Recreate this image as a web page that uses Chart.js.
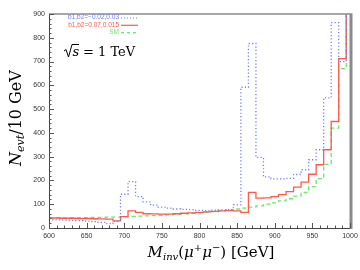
<!DOCTYPE html>
<html>
<head>
<meta charset="utf-8">
<script src="https://cdn.jsdelivr.net/npm/chart.js@4"></script>
<style>
  html, body { margin: 0; padding: 0; background: #fff; }
  #wrap { width: 360px; height: 270px; }
</style>
</head>
<body>
<div id="wrap"><canvas id="c" width="360" height="270"></canvas></div>
<script>
// bin centres, 10 GeV bins
const mInv = [600, 610, 620, 630, 640, 650, 660, 670, 680, 690,
              700, 710, 720, 730, 740, 750, 760, 770, 780, 790,
              800, 810, 820, 830, 840, 850, 860, 870, 880, 890,
              900, 910, 920, 930, 940, 950, 960, 970, 980, 990, 1000];

// b1,b2 = -0.02,0.03
const blueCounts = [35, 34, 33, 32, 31, 29, 27, 24, 18, 28,
                    142, 195, 132, 110, 96, 88, 84, 80, 78, 77,
                    74, 73, 75, 76, 77, 97, 592, 776, 297, 215,
                    207, 207, 209, 225, 245, 287, 329, 547, 864, 700, 950];

// b1,b2 = 0.07,0.015
const redCounts = [42, 42, 41, 41, 40, 40, 39, 38, 37, 30,
                   48, 72, 66, 60, 59, 58, 58, 60, 62, 64,
                   66, 68, 70, 72, 73, 72, 66, 150, 126, 127,
                   132, 140, 153, 172, 193, 226, 266, 329, 448, 712, 950];

// SM
const smCounts = [43, 43, 43, 44, 44, 44, 45, 45, 46, 46,
                  48, 49, 50, 51, 52, 53, 55, 57, 59, 62,
                  64, 66, 69, 72, 76, 80, 84, 88, 93, 100,
                  106, 114, 123, 134, 150, 174, 208, 268, 420, 670, 950];

const xTicks = [600, 650, 700, 750, 800, 850, 900, 950, 1000];
const yTicks = [0, 100, 200, 300, 400, 500, 600, 700, 800, 900];

const BLUE = '#6f7dfa';
const RED = '#ff5a47';
const GREEN = '#6be86b';

function toPoints(arr) {
  return arr.map((v, i) => ({ x: mInv[i], y: v }));
}

// frame, inward ticks, titles and legend
const decor = {
  id: 'decor',
  afterDraw(chart) {
    const ctx = chart.ctx;
    const { left, right, top, bottom } = chart.chartArea;
    const xs = chart.scales.x, ys = chart.scales.y;
    ctx.save();

    // frame
    ctx.strokeStyle = '#8a8a8a';
    ctx.lineWidth = 1.5;
    ctx.beginPath(); ctx.moveTo(left, top); ctx.lineTo(right, top); ctx.stroke();
    ctx.lineWidth = 3;
    ctx.beginPath(); ctx.moveTo(right + 1, top - 0.75); ctx.lineTo(right + 1, bottom + 1); ctx.stroke();
    ctx.strokeStyle = '#444';
    ctx.lineWidth = 1;
    ctx.beginPath();
    ctx.moveTo(left + 0.5, top); ctx.lineTo(left + 0.5, bottom + 0.5); ctx.lineTo(right, bottom + 0.5);
    ctx.stroke();

    // ticks
    ctx.strokeStyle = '#555';
    ctx.beginPath();
    for (let v = 600; v <= 1000; v += 10) {
      const px = Math.round(xs.getPixelForValue(v)) + 0.5;
      const len = v % 50 === 0 ? 5 : 2.5;
      ctx.moveTo(px, bottom); ctx.lineTo(px, bottom - len);
    }
    for (let v = 0; v <= 900; v += 20) {
      const py = Math.round(ys.getPixelForValue(v)) + 0.5;
      const len = v % 100 === 0 ? 5 : 2.5;
      ctx.moveTo(left, py); ctx.lineTo(left + len, py);
    }
    ctx.stroke();

    // tick labels
    ctx.fillStyle = '#333';
    ctx.font = '7px "Liberation Sans"';
    ctx.textAlign = 'center';
    ctx.textBaseline = 'top';
    xTicks.forEach(v => ctx.fillText(String(v), xs.getPixelForValue(v), bottom + 5));
    ctx.textAlign = 'right';
    ctx.textBaseline = 'middle';
    yTicks.forEach(v => ctx.fillText(String(v), left - 4, ys.getPixelForValue(v)));

    // y title: N_evt/10 GeV
    ctx.save();
    ctx.translate(21, 118);
    ctx.rotate(-Math.PI / 2);
    ctx.fillStyle = '#000';
    ctx.textAlign = 'left';
    ctx.textBaseline = 'alphabetic';
    const yParts = [
      ['italic 16px "DejaVu Serif"', 'N', 0],
      ['italic 11px "DejaVu Serif"', 'evt', 3],
      ['16px "DejaVu Serif"', '/10 GeV', 0]
    ];
    let w = 0;
    yParts.forEach(p => { ctx.font = p[0]; w += ctx.measureText(p[1]).width; });
    let cx = -w / 2;
    yParts.forEach(p => { ctx.font = p[0]; ctx.fillText(p[1], cx, p[2]); cx += ctx.measureText(p[1]).width; });
    ctx.restore();

    // x title: M_inv(mu+ mu-) [GeV]
    const xParts = [
      ['italic 15px "DejaVu Serif"', 'M', 0],
      ['italic 10px "DejaVu Serif"', 'inv', 3],
      ['15px "DejaVu Serif"', '(', 0],
      ['italic 15px "DejaVu Serif"', 'μ', 0],
      ['10px "DejaVu Serif"', '+', -6],
      ['italic 15px "DejaVu Serif"', 'μ', 0],
      ['10px "DejaVu Serif"', '−', -6],
      ['15px "DejaVu Serif"', ') [GeV]', 0]
    ];
    ctx.fillStyle = '#000';
    ctx.textAlign = 'left';
    ctx.textBaseline = 'alphabetic';
    w = 0;
    xParts.forEach(p => { ctx.font = p[0]; w += ctx.measureText(p[1]).width; });
    cx = 211 - w / 2;
    xParts.forEach(p => { ctx.font = p[0]; ctx.fillText(p[1], cx, 257 + p[2]); cx += ctx.measureText(p[1]).width; });

    // legend
    const leg = [
      ['b1,b2=−0.02,0.03', BLUE, [1, 2]],
      ['b1,b2=0.07,0.015', RED, []],
      ['SM', GREEN, [3, 3]]
    ];
    ctx.font = '6.5px "Liberation Sans"';
    ctx.textAlign = 'right';
    ctx.textBaseline = 'middle';
    leg.forEach((l, i) => {
      const y = 17.5 + i * 7.3;
      ctx.fillStyle = l[1];
      ctx.fillText(l[0], 119, y);
      ctx.strokeStyle = l[1];
      ctx.lineWidth = 1.2;
      ctx.setLineDash(l[2]);
      ctx.beginPath(); ctx.moveTo(121, y + 0.5); ctx.lineTo(138, y + 0.5); ctx.stroke();
    });
    ctx.setLineDash([]);

    // sqrt(s) = 1 TeV
    ctx.strokeStyle = '#000';
    ctx.lineWidth = 1;
    ctx.beginPath();
    ctx.moveTo(64, 51); ctx.lineTo(66, 49.5); ctx.lineTo(68.5, 57); ctx.lineTo(72, 44.5); ctx.lineTo(79, 44.5);
    ctx.stroke();
    ctx.fillStyle = '#000';
    ctx.textAlign = 'left';
    ctx.textBaseline = 'alphabetic';
    ctx.font = 'italic 13px "DejaVu Serif"';
    ctx.fillText('s', 72.5, 56);
    ctx.font = '13px "DejaVu Serif"';
    ctx.fillText('= 1 TeV', 83, 56);

    ctx.restore();
  }
};

new Chart(document.getElementById('c'), {
  type: 'line',
  data: {
    datasets: [
      {
        label: 'b1,b2=-0.02,0.03',
        data: toPoints(blueCounts),
        borderColor: BLUE,
        borderWidth: 1.3,
        borderDash: [1.2, 2.2],
        stepped: 'middle',
        pointRadius: 0,
        fill: false
      },
      {
        label: 'b1,b2=0.07,0.015',
        data: toPoints(redCounts),
        borderColor: RED,
        borderWidth: 1.3,
        stepped: 'middle',
        pointRadius: 0,
        fill: false
      },
      {
        label: 'SM',
        data: toPoints(smCounts),
        borderColor: GREEN,
        borderWidth: 1.3,
        borderDash: [4, 3],
        stepped: 'middle',
        pointRadius: 0,
        fill: false
      }
    ]
  },
  options: {
    responsive: false,
    animation: false,
    layout: { padding: { left: 0, right: 10, top: 14, bottom: 0 } },
    plugins: { legend: { display: false }, tooltip: { enabled: false } },
    scales: {
      x: {
        type: 'linear',
        min: 600,
        max: 1000,
        grid: { display: false, drawTicks: false },
        border: { display: false },
        ticks: { display: false },
        afterFit: (s) => { s.height = 42; }
      },
      y: {
        min: 0,
        max: 900,
        grid: { display: false, drawTicks: false },
        border: { display: false },
        ticks: { display: false },
        afterFit: (s) => { s.width = 49; }
      }
    }
  },
  plugins: [decor]
});
</script>
</body>
</html>
